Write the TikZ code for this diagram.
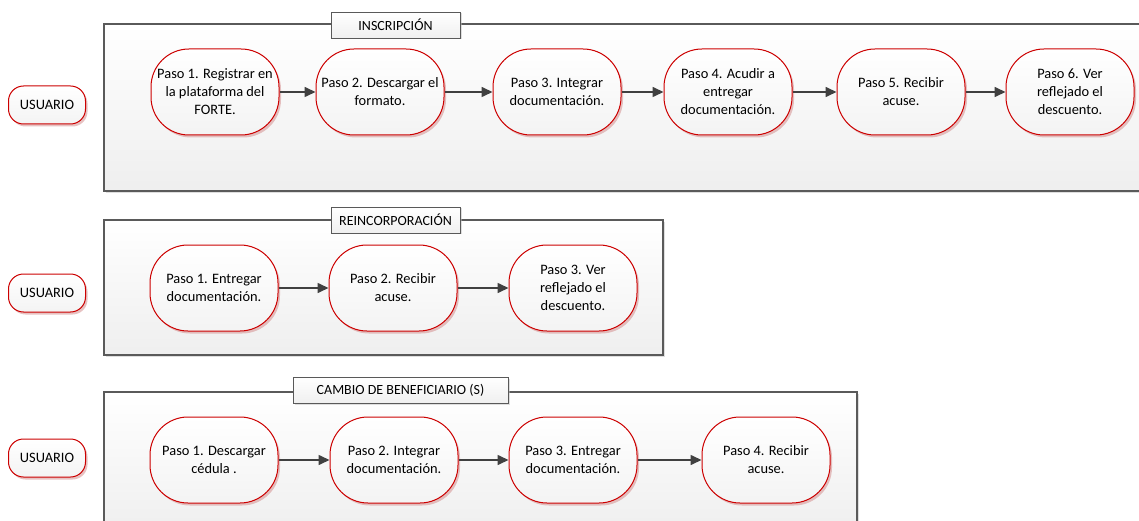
\documentclass[tikz,border=0pt]{standalone}
\usepackage{fontspec}
\setmainfont{Carlito}
\usetikzlibrary{arrows.meta,shadows,positioning}
\definecolor{nodered}{RGB}{204,0,0}
\definecolor{arrowgray}{RGB}{64,64,64}
\definecolor{framegray}{RGB}{90,90,90}
\tikzset{
  pasobox/.style={draw=nodered, line width=1pt, rounded corners=38pt, minimum width=128pt, minimum height=86pt,
    top color=white, bottom color=gray!9, align=center, font=\fontsize{14.4}{18}\selectfont, inner sep=1pt,
    drop shadow={shadow xshift=2pt, shadow yshift=-2.5pt, fill=red!45!gray!60, opacity=0.55}},
  userbox/.style={draw=nodered, line width=1pt, rounded corners=15pt, minimum width=77pt, minimum height=38pt,
    top color=white, bottom color=gray!9, font=\fontsize{14.4}{16}\selectfont,
    drop shadow={shadow xshift=2pt, shadow yshift=-2.5pt, fill=red!45!gray!60, opacity=0.55}},
  framebox/.style={draw=framegray, line width=1.1pt, top color=white, bottom color=gray!13,
    drop shadow={shadow xshift=2pt, shadow yshift=-2pt, fill=gray!50, opacity=0.5}},
  titlebox/.style={draw=gray!70!black, line width=0.8pt, top color=white, bottom color=gray!12,
    font=\fontsize{14}{16}\selectfont, inner sep=0pt,
    drop shadow={shadow xshift=1.5pt, shadow yshift=-1.5pt, fill=gray!50, opacity=0.5}},
  flow/.style={draw=arrowgray, line width=1.6pt, -{Triangle[length=11pt,width=10pt]}}
}
\begin{document}
\begin{tikzpicture}[x=1pt,y=-1pt]
\useasboundingbox[fill=white] (0,0) rectangle (1139,521);
% frames
\path[framebox] (104,24) rectangle (1150,191);
\path[framebox] (104,220) rectangle (663,355);
\path[framebox] (104,392) rectangle (857,535);
% titles
\node[titlebox, minimum width=129pt, minimum height=26pt] (t1) at (395.5,25) {INSCRIPCIÓN};
\node[titlebox, minimum width=129pt, minimum height=26pt] (t2) at (395.5,220) {REINCORPORACIÓN};
\node[titlebox, minimum width=215pt, minimum height=26pt] (t3) at (400.5,390) {CAMBIO DE BENEFICIARIO (S)};
% users
\node[userbox] (u1) at (47,105) {USUARIO};
\node[userbox] (u2) at (47,293) {USUARIO};
\node[userbox] (u3) at (47,458) {USUARIO};
% row 1
\node[pasobox] (a1) at (215,92) {Paso 1. Registrar en\\la plataforma del\\FORTE.};
\node[pasobox] (a2) at (380,92) {Paso 2. Descargar el\\formato.};
\node[pasobox] (a3) at (557,92) {Paso 3. Integrar\\documentación.};
\node[pasobox] (a4) at (728,92) {Paso 4. Acudir a\\entregar\\documentación.};
\node[pasobox] (a5) at (901,92) {Paso 5. Recibir\\acuse.};
\node[pasobox] (a6) at (1070,92) {Paso 6. Ver\\reflejado el\\descuento.};
\draw[flow] (a1) -- (a2);
\draw[flow] (a2) -- (a3);
\draw[flow] (a3) -- (a4);
\draw[flow] (a4) -- (a5);
\draw[flow] (a5) -- (a6);
% row 2
\node[pasobox] (b1) at (214,288) {Paso 1. Entregar\\documentación.};
\node[pasobox] (b2) at (393,288) {Paso 2. Recibir\\acuse.};
\node[pasobox] (b3) at (573,288) {Paso 3. Ver\\reflejado el\\descuento.};
\draw[flow] (b1) -- (b2);
\draw[flow] (b2) -- (b3);
% row 3
\node[pasobox] (c1) at (214,460) {Paso 1. Descargar\\cédula .};
\node[pasobox] (c2) at (394,460) {Paso 2. Integrar\\documentación.};
\node[pasobox] (c3) at (573,460) {Paso 3. Entregar\\documentación.};
\node[pasobox] (c4) at (766,460) {Paso 4. Recibir\\acuse.};
\draw[flow] (c1) -- (c2);
\draw[flow] (c2) -- (c3);
\draw[flow] (c3) -- (c4);
\end{tikzpicture}
\end{document}
